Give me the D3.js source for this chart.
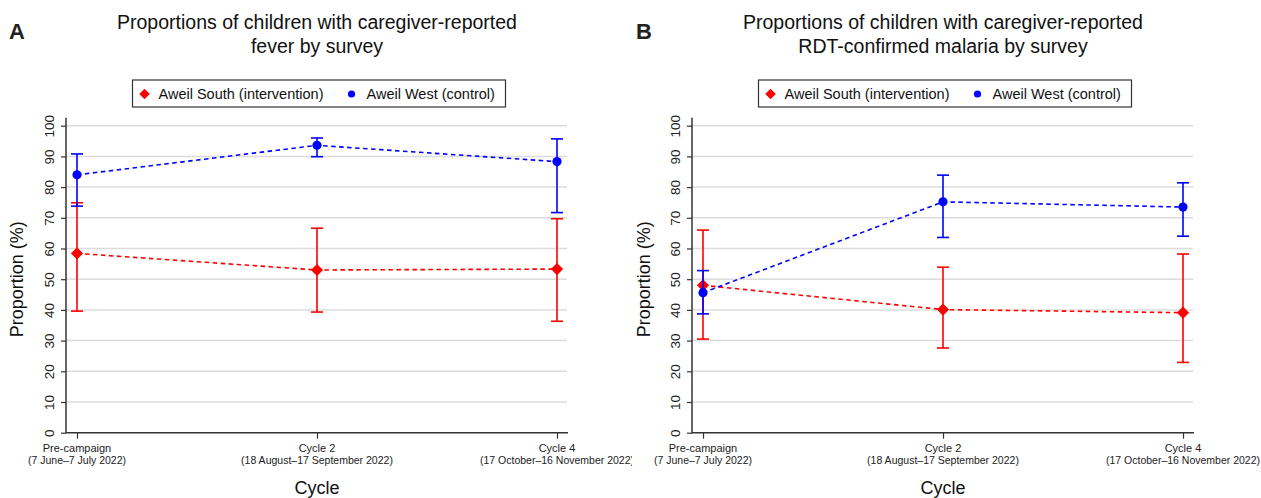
<!DOCTYPE html>
<html>
  <head>
    <title>Proportions by survey</title>
    <style>
      body { margin: 0; background: #fff; }
      text { font-family: "Liberation Sans", Arial, sans-serif; }
    </style>
  </head>
  <body>
    <script src="https://cdn.jsdelivr.net/npm/d3@7"></script>
    <script>
      var W = 1261, H = 498;

      // shared categories and ticks
      var cycles = ["Pre-campaign", "Cycle 2", "Cycle 4"];
      var cycleDates = ["(7 June\u20137 July 2022)", "(18 August\u201317 September 2022)", "(17 October\u201316 November 2022)"];
      var yTicks = [0, 10, 20, 30, 40, 50, 60, 70, 80, 90, 100];
      var seriesNames = ["Aweil South (intervention)", "Aweil West (control)"];

      // panel A: fever
      var feverSouth = [58.4, 53.0, 53.3];
      var feverSouthLo = [39.6, 39.3, 36.3];
      var feverSouthHi = [74.9, 66.6, 69.7];
      var feverWest = [84.0, 93.6, 88.3];
      var feverWestLo = [73.8, 89.9, 71.7];
      var feverWestHi = [90.8, 96.0, 95.7];

      // panel B: RDT-confirmed malaria
      var malSouth = [48.0, 40.1, 39.1];
      var malSouthLo = [30.5, 27.6, 22.9];
      var malSouthHi = [66.0, 53.9, 58.2];
      var malWest = [45.6, 75.2, 73.5];
      var malWestLo = [38.7, 63.6, 64.0];
      var malWestHi = [52.8, 83.9, 81.4];

      var panels = [
        { letter: "A", x0: 0, w: 632, axisX: 66, right: 567, pad: 11,
          title: ["Proportions of children with caregiver-reported", "fever by survey"],
          series: [
            { v: feverSouth, lo: feverSouthLo, hi: feverSouthHi, color: "#ff0000", shape: "diamond" },
            { v: feverWest, lo: feverWestLo, hi: feverWestHi, color: "#0000ff", shape: "circle" }
          ] },
        { letter: "B", x0: 627, w: 634, axisX: 692, right: 1193, pad: 11,
          title: ["Proportions of children with caregiver-reported", "RDT-confirmed malaria by survey"],
          series: [
            { v: malSouth, lo: malSouthLo, hi: malSouthHi, color: "#ff0000", shape: "diamond" },
            { v: malWest, lo: malWestLo, hi: malWestHi, color: "#0000ff", shape: "circle" }
          ] }
      ];

      var svg = d3.select("body").append("svg").attr("width", W).attr("height", H);

      var y = d3.scaleLinear().domain([0, 100]).range([432.7, 125.7]);
      var axisCol = "#333";

      panels.forEach(function(p, pi) {
        var clipId = "clip" + pi;
        svg.append("clipPath").attr("id", clipId).append("rect")
          .attr("x", p.x0).attr("y", 0).attr("width", p.w).attr("height", H);
        var g = svg.append("g").attr("clip-path", "url(#" + clipId + ")");

        var x = d3.scalePoint().domain(cycles)
          .range([p.axisX + p.pad, p.right - 10]);
        var cx = (x(cycles[0]) + x(cycles[2])) / 2;

        // panel letter
        g.append("text").attr("x", p.x0 + 9).attr("y", 39)
          .attr("font-size", 22).attr("font-weight", "bold").attr("fill", "#222")
          .text(p.letter);

        // title
        g.append("text").attr("x", cx).attr("y", 29).attr("text-anchor", "middle")
          .attr("font-size", 19.5).attr("fill", "#111").text(p.title[0]);
        g.append("text").attr("x", cx).attr("y", 53).attr("text-anchor", "middle")
          .attr("font-size", 19.5).attr("fill", "#111").text(p.title[1]);

        // legend
        var lw = 373, lx = cx - lw / 2 + 2, ly = 80;
        var lg = g.append("g");
        lg.append("rect").attr("x", lx).attr("y", ly).attr("width", lw).attr("height", 27)
          .attr("fill", "#fff").attr("stroke", "#333").attr("stroke-width", 1.2);
        lg.append("path").attr("d", d3.symbol(d3.symbolDiamond2, 70)())
          .attr("transform", "translate(" + (lx + 12) + "," + (ly + 14) + ")").attr("fill", "#ff0000");
        lg.append("text").attr("x", lx + 26).attr("y", ly + 19).attr("font-size", 14.5)
          .attr("fill", "#111").text(seriesNames[0]);
        lg.append("circle").attr("cx", lx + 219).attr("cy", ly + 14).attr("r", 3.6).attr("fill", "#0000ff");
        lg.append("text").attr("x", lx + 234).attr("y", ly + 19).attr("font-size", 14.5)
          .attr("fill", "#111").text(seriesNames[1]);

        // gridlines
        g.append("g").selectAll("line").data(yTicks.slice(1)).join("line")
          .attr("x1", p.axisX).attr("x2", p.right)
          .attr("y1", function(d) { return y(d); }).attr("y2", function(d) { return y(d); })
          .attr("stroke", "#dcdcdc").attr("stroke-width", 1.5);

        // y axis
        var ya = g.append("g").attr("transform", "translate(" + p.axisX + ",0)")
          .call(d3.axisLeft(y).tickValues(yTicks).tickSize(5).tickFormat(d3.format("d")));
        ya.select(".domain").attr("stroke", axisCol).attr("stroke-width", 1.5)
          .attr("d", "M0," + (y(0) + 0.5) + "V" + (y(100) - 8));
        ya.selectAll(".tick line").attr("stroke", axisCol).attr("stroke-width", 1.2);
        ya.selectAll(".tick text").attr("font-size", 13.5).attr("fill", "#222")
          .attr("text-anchor", "middle").attr("x", 0).attr("y", 0).attr("dy", 0)
          .attr("transform", "translate(-12,0) rotate(-90)");

        g.append("text").attr("transform", "translate(" + (p.x0 + 23) + "," + y(50) + ") rotate(-90)")
          .attr("text-anchor", "middle").attr("font-size", 18).attr("fill", "#111").text("Proportion (%)");

        // x axis
        var xa = g.append("g").attr("transform", "translate(0," + y(0) + ")")
          .call(d3.axisBottom(x).tickSize(6).tickFormat(""));
        xa.select(".domain").attr("stroke", axisCol).attr("stroke-width", 1.5)
          .attr("d", "M" + p.axisX + ",0H" + (p.right + 1));
        xa.selectAll(".tick line").attr("stroke", axisCol).attr("stroke-width", 1.2);
        cycles.forEach(function(c, i) {
          g.append("text").attr("x", x(c)).attr("y", 452).attr("text-anchor", "middle")
            .attr("font-size", 11).attr("fill", "#222").text(c);
          g.append("text").attr("x", x(c)).attr("y", 464).attr("text-anchor", "middle")
            .attr("font-size", 10.5).attr("fill", "#222").text(cycleDates[i]);
        });
        g.append("text").attr("x", cx).attr("y", 494).attr("text-anchor", "middle")
          .attr("font-size", 18).attr("fill", "#111").text("Cycle");

        // series
        p.series.forEach(function(s) {
          var line = d3.line().x(function(d, i) { return x(cycles[i]); }).y(function(d) { return y(d); });
          g.append("path").attr("d", line(s.v)).attr("fill", "none")
            .attr("stroke", s.color).attr("stroke-width", 1.6).attr("stroke-dasharray", "4.5,3.5");
          var eb = g.append("g").attr("stroke", s.color).attr("stroke-width", 1.6);
          s.v.forEach(function(d, i) {
            var px = x(cycles[i]);
            eb.append("line").attr("x1", px).attr("x2", px).attr("y1", y(s.lo[i])).attr("y2", y(s.hi[i]));
            eb.append("line").attr("x1", px - 6).attr("x2", px + 6).attr("y1", y(s.lo[i])).attr("y2", y(s.lo[i]));
            eb.append("line").attr("x1", px - 6).attr("x2", px + 6).attr("y1", y(s.hi[i])).attr("y2", y(s.hi[i]));
          });
          s.v.forEach(function(d, i) {
            var px = x(cycles[i]);
            if (s.shape === "diamond") {
              g.append("path").attr("d", d3.symbol(d3.symbolDiamond2, 95)())
                .attr("transform", "translate(" + px + "," + y(d) + ")").attr("fill", s.color);
            } else {
              g.append("circle").attr("cx", px).attr("cy", y(d)).attr("r", 4.6).attr("fill", s.color);
            }
          });
        });
      });
    </script>
  </body>
</html>
